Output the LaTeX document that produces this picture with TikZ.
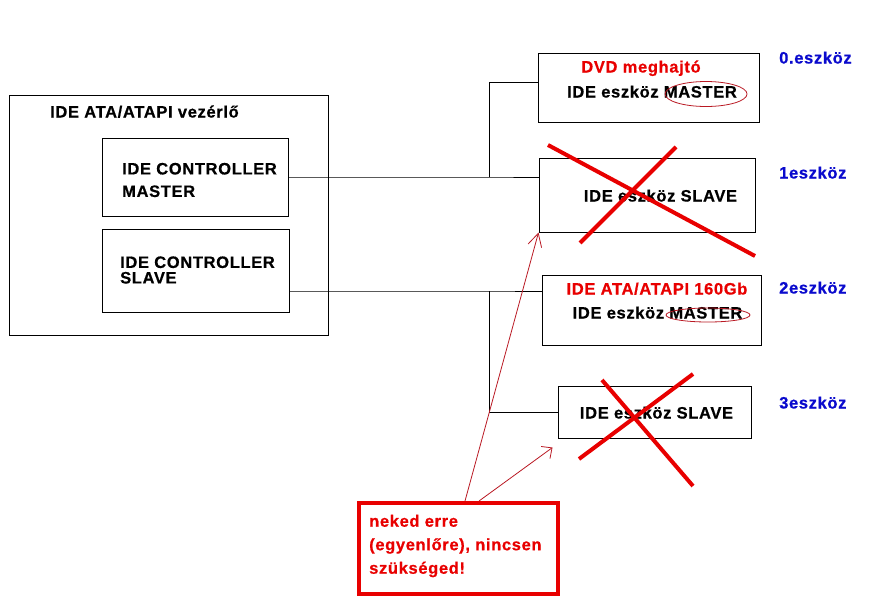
\documentclass[tikz,border=0pt]{standalone}
\usepackage{fontspec}
\setmainfont[LetterSpace=4,BoldFeatures={FakeBold=0.6}]{Liberation Sans}
\usetikzlibrary{positioning,arrows.meta}
\definecolor{ered}{RGB}{232,0,0}
\definecolor{edark}{RGB}{185,25,35}
\definecolor{eblue}{RGB}{10,10,205}
\tikzset{box/.style 2 args={draw,line width=1pt,minimum width=#1,minimum height=#2,inner sep=0pt},
  txt/.style={inner sep=0pt,text height=12pt,text depth=3pt},
  wire/.style={line width=1pt},
  cross/.style={ered,line width=4pt},
  hint/.style={edark,line width=0.8pt}}

\begin{document}
\begin{tikzpicture}[x=1pt,y=-1pt,font=\bfseries\fontsize{16.5}{20}\selectfont]
    \useasboundingbox (0,0) rectangle (890,606);
    % vezerlo
    \node[box={319}{240}] (ctl) at (168.5,215) {};
    \node[txt,anchor=west] (ctltitle) at (50,113) {IDE ATA/ATAPI vezérlő};
    \node[box={186}{78}] (cm) at (195,177) {};
    \node[anchor=west,align=left,inner sep=0pt,font=\bfseries\fontsize{16.5}{22.5}\selectfont] (cmtxt) at (122,180) {IDE CONTROLLER\\MASTER};
    \node[box={187}{83}] (cs) at (195.5,270.5) {};
    \node[anchor=west,align=left,inner sep=0pt,font=\bfseries\fontsize{16.5}{15.5}\selectfont] (cstxt) at (120,270) {IDE CONTROLLER\\SLAVE};
    % eszkozok
    \node[box={221}{69}] (d0) at (648.5,87.5) {};
    \node[txt,ered] (d0a) at (641,68) {DVD meghajtó};
    \node[txt] (d0b) at (652,93) {IDE eszköz MASTER};
    \node[box={216}{74}] (d1) at (647,195) {};
    \node[txt] (d1a) at (660.5,197) {IDE eszköz SLAVE};
    \node[box={219}{70}] (d2) at (651.5,310) {};
    \node[txt,ered] (d2a) at (657,290) {IDE ATA/ATAPI 160Gb};
    \node[txt] (d2b) at (657.5,314) {IDE eszköz MASTER};
    \node[box={193}{52}] (d3) at (654.5,412) {};
    \node[txt] (d3a) at (656.5,414) {IDE eszköz SLAVE};
    \node[txt,eblue,anchor=west] (n0) at (779,59) {0.eszköz};
    \node[txt,eblue,anchor=west] (n1) at (779,174) {1eszköz};
    \node[txt,eblue,anchor=west] (n2) at (779,289) {2eszköz};
    \node[txt,eblue,anchor=west] (n3) at (779,404) {3eszköz};
    % kabelek
    \coordinate (jm) at (489,177);
    \coordinate (js) at (489,291);
    \draw[wire] (cm.east) -- (jm) -- (jm -| d1.west);
    \draw[wire] (jm) |- ([yshift=5.5pt]d0.west);
    \draw[wire] (cs.east |- js) -- (js) -- (js -| d2.west);
    \draw[wire] (js) |- (d3.west);
    % jelolesek
    \draw[edark,line width=0.8pt] (706,94) ellipse [x radius=41, y radius=12.5];
    \draw[edark,line width=0.8pt] (708,315) ellipse [x radius=42, y radius=7];
    \draw[cross] (548,145) -- (755,256);
    \draw[cross] (580,243) -- (676,147);
    \draw[cross] (602,380) -- (693,486);
    \draw[cross] (579,459) -- (693,374);
    % megjegyzes
    \node[box={199}{91},draw=ered,line width=4pt] (note) at (458.5,548.5) {};
    \node[anchor=west,align=left,inner sep=0pt,ered,font=\bfseries\fontsize{16.5}{23.5}\selectfont] (notetxt) at (369,546) {neked erre\\(egyenlőre), nincsen\\szükséged!};
    \draw[hint,-{Straight Barb[length=13pt,width=14pt]}] ([xshift=108pt]note.north west) -- (d1.south west);
    \draw[hint,-{Straight Barb[length=8pt,width=15pt]}] ([xshift=122pt]note.north west) -- ([shift={(-5,9)}]d3.south west);
\end{tikzpicture}
\end{document}
